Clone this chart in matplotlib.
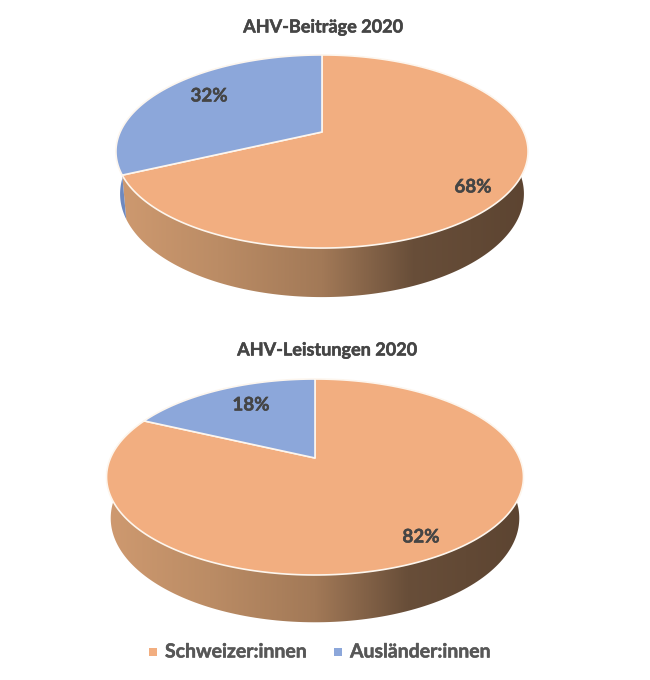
import matplotlib
matplotlib.use('Agg')
import matplotlib.pyplot as plt
import matplotlib.patheffects as pe
from matplotlib.colors import LinearSegmentedColormap
from matplotlib.patches import Polygon
import numpy as np

plt.rcParams['font.family'] = ['Lato', 'DejaVu Sans']

categories = ['Schweizer:innen', 'Ausländer:innen']
titles = ['AHV-Beiträge 2020', 'AHV-Leistungen 2020']
beitraege = [68, 32]
leistungen = [82, 18]

ORANGE = '#f2ae80'
BLUE = '#8ca7da'
TEXT = '#454545'
LEGEND_TEXT = '#575757'

# x, y of the apex, half axes of the projected circle, perspective, rim height
pie_top = dict(cx=322, cy=132, a=201.8, b=92.6, k=0.202, depth=41, shrink=0.98)
pie_bottom = dict(cx=315, cy=458, a=204.5, b=94.3, k=0.194, depth=40, shrink=0.98)

side_orange = LinearSegmentedColormap.from_list(
    'so', [(0, '#cf9a70'), (0.25, '#bb8c65'), (0.5, '#a27957'), (0.72, '#684e39'), (1, '#5c4431')])
side_blue = LinearSegmentedColormap.from_list('sb', ['#6f8ac0', '#4c6391'])


def project(geo, theta, lower=False):
    # theta runs clockwise from the top of the pie
    u = np.sin(theta)
    v = np.cos(theta)
    w = 1 + geo['k'] * v
    x = geo['a'] * u / w
    y = -geo['b'] * v / w
    if lower:
        x = x * geo['shrink']
        y = y * geo['shrink'] + geo['depth'] / w
    return geo['cx'] + x, geo['cy'] + y


def draw_pie(ax, geo, shares, colors, cmaps):
    fractions = np.array(shares) / sum(shares)
    stops = np.concatenate([[0], np.cumsum(fractions)]) * 2 * np.pi
    # rim first, the top face is laid over its hidden part
    for i in range(len(shares)):
        theta = np.linspace(stops[i], stops[i + 1], 240)
        tx, ty = project(geo, theta)
        lx, ly = project(geo, theta, lower=True)
        poly = Polygon(np.r_[np.c_[tx, ty], np.c_[lx, ly][::-1]], closed=True,
                       fc='none', ec='none', transform=ax.transData)
        ax.add_patch(poly)
        extent_x = (geo['cx'] - geo['a'] * 1.03, geo['cx'] + geo['a'] * 1.03)
        im = ax.imshow(np.linspace(0, 1, 256).reshape(1, -1), cmap=cmaps[i], aspect='auto',
                       extent=(extent_x[0], extent_x[1], geo['cy'] + 180, geo['cy'] - 90), zorder=1)
        im.set_clip_path(poly)
    for i in range(len(shares)):
        theta = np.linspace(stops[i], stops[i + 1], 240)
        x, y = project(geo, theta)
        ax.fill(np.r_[geo['cx'], x], np.r_[geo['cy'], y], fc=colors[i], ec='#fdf6ee', lw=1.2,
                joinstyle='round', zorder=2)


fig = plt.figure(figsize=(6.5, 6.8), dpi=100)
ax = fig.add_axes([0, 0, 1, 1])

draw_pie(ax, pie_top, beitraege, [ORANGE, BLUE], [side_orange, side_blue])
draw_pie(ax, pie_bottom, leistungen, [ORANGE, BLUE], [side_orange, side_blue])

ax.set_xlim(0, 650)
ax.set_ylim(680, 0)
ax.axis('off')

heavier = [pe.withStroke(linewidth=0.35, foreground=TEXT)]
ax.text(323, 27, titles[0], ha='center', va='center', fontsize=13, fontweight='bold', color=TEXT,
        path_effects=heavier)
ax.text(327, 350, titles[1], ha='center', va='center', fontsize=13, fontweight='bold', color=TEXT,
        path_effects=heavier)

label_font = dict(ha='center', va='center', fontsize=13.5, fontweight='bold', color=TEXT, zorder=3,
                  path_effects=heavier)
ax.text(473, 187, f'{beitraege[0]}%', **label_font)
ax.text(209, 96, f'{beitraege[1]}%', **label_font)
ax.text(421, 537, f'{leistungen[0]}%', **label_font)
ax.text(251, 405, f'{leistungen[1]}%', **label_font)

# legend
ax.scatter([153, 338], [652, 652], marker='s', s=36, c=[ORANGE, BLUE], linewidths=0, zorder=3)
heavier_legend = [pe.withStroke(linewidth=0.35, foreground=LEGEND_TEXT)]
ax.text(165, 652, categories[0], ha='left', va='center', fontsize=14, fontweight='bold',
        color=LEGEND_TEXT, path_effects=heavier_legend)
ax.text(350, 652, categories[1], ha='left', va='center', fontsize=14, fontweight='bold',
        color=LEGEND_TEXT, path_effects=heavier_legend)

fig.savefig('out.png', dpi=100)
